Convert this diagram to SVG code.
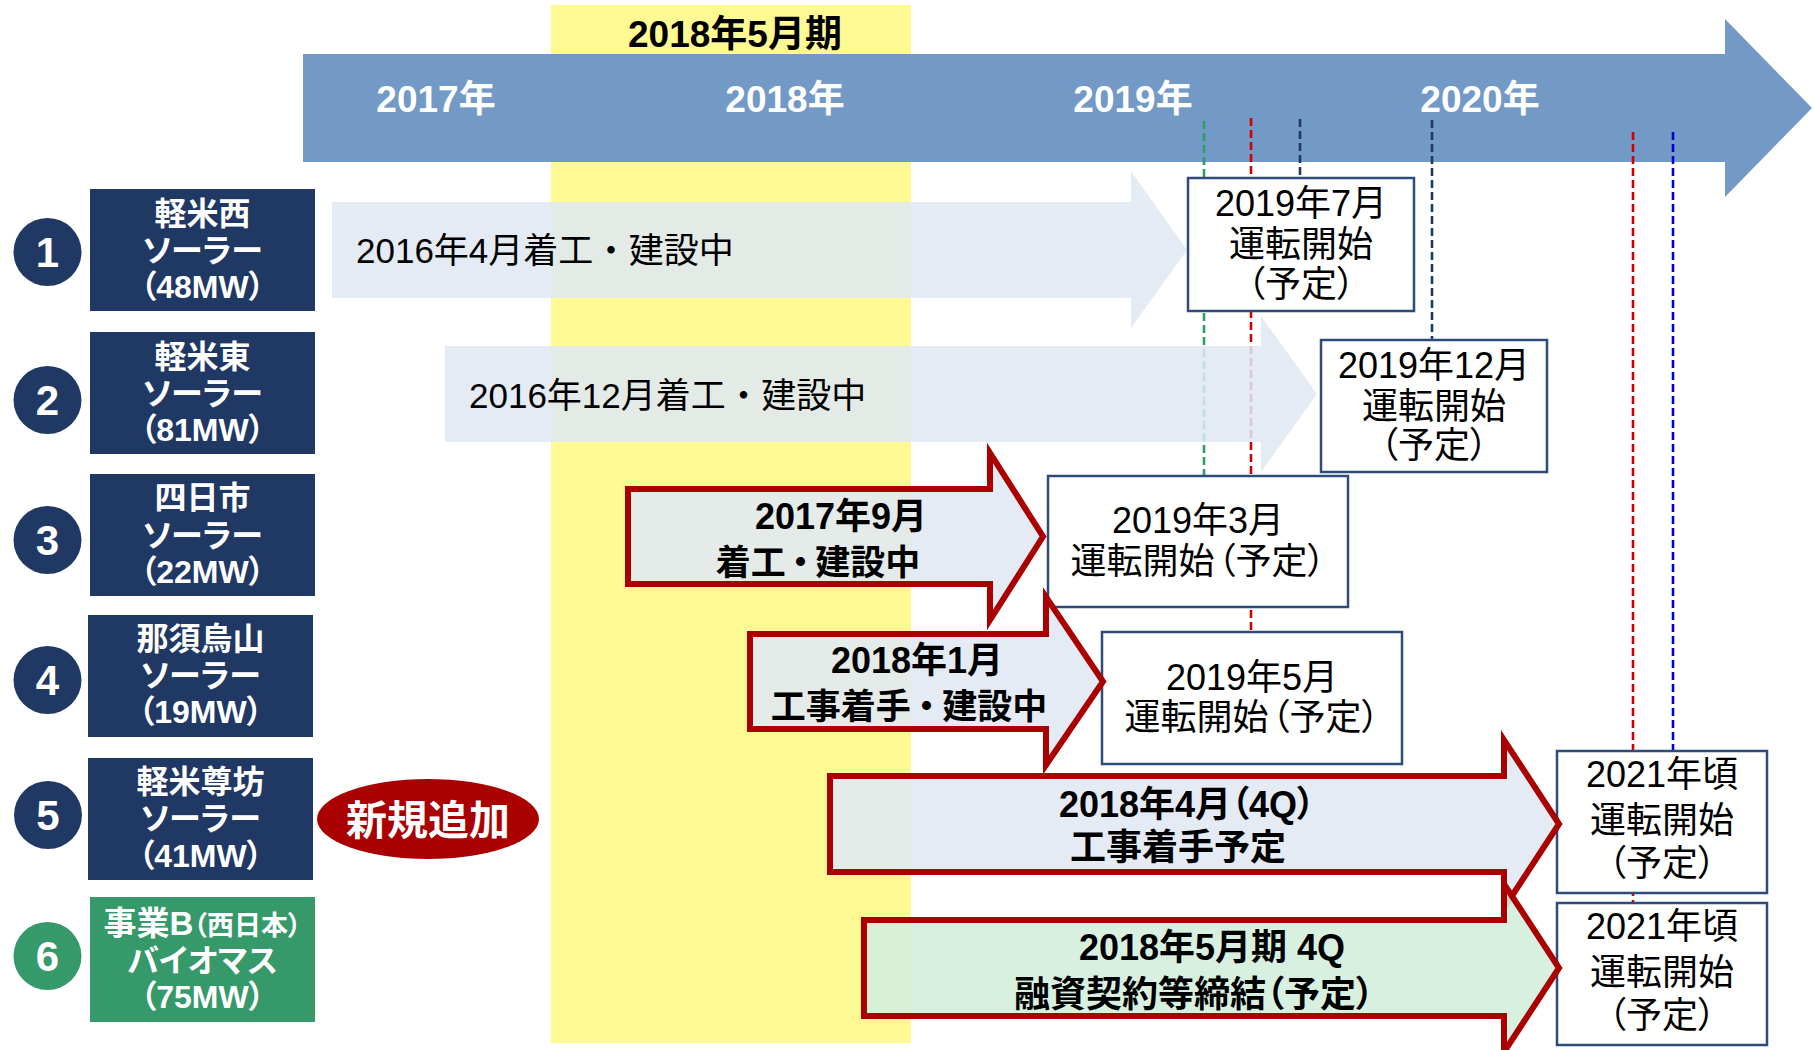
<svg xmlns="http://www.w3.org/2000/svg" width="1814" height="1050" viewBox="0 0 1814 1050">
<style>
  text { font-family: "Liberation Sans", "Noto Sans CJK JP", sans-serif; font-feature-settings: "palt"; }
  .lbl { fill:#ffffff; font-weight:bold; font-size:32px; text-anchor:middle; }
  .num { fill:#ffffff; font-weight:bold; font-size:42px; text-anchor:middle; }
  .year { fill:#ffffff; font-weight:bold; font-size:37px; text-anchor:middle; }
  .box { fill:#ffffff; stroke:#2F4B7C; stroke-width:2.5; }
  .bt { fill:#000000; font-size:36px; text-anchor:middle; }
  .gt { fill:#000000; font-size:35px; }
  .at { fill:#000000; font-weight:bold; font-size:36px; text-anchor:middle; }
  .garrow { fill:#E0E8F3; opacity:0.86; }
  .rarrow { fill:#E1E9F3; fill-opacity:0.9; stroke:#AA0000; stroke-width:6; stroke-linejoin:miter; stroke-miterlimit:10; }
  .rarrow.green { fill:#D3EEDD; }
  .dash { fill:none; stroke-width:2.6; stroke-dasharray:8 4; }
  .navyfill { fill:#203864; }
  .greenfill { fill:#35996A; }
</style>

<g id="period-band">
  <rect x="551" y="5" width="360" height="1038" fill="#FFF993"/>
  <text x="735" y="47" style="font-weight:bold;font-size:37px;text-anchor:middle;fill:#000">2018年5月期</text>
</g>

<g id="timeline">
  <path d="M303,54 H1725 V19 L1812,108 L1725,197 V162 H303 Z" fill="#7399C6"/>
  <text class="year" x="436" y="112">2017年</text>
  <text class="year" x="785" y="112">2018年</text>
  <text class="year" x="1133" y="112">2019年</text>
  <text class="year" x="1480" y="112">2020年</text>
</g>

<g id="connectors">
  <line class="dash" x1="1204" y1="121" x2="1204" y2="482" stroke="#2E9E66"/>
  <line class="dash" x1="1251" y1="118" x2="1251" y2="638" stroke="#D00000"/>
  <line class="dash" x1="1300" y1="119" x2="1300" y2="184" stroke="#203864"/>
  <line class="dash" x1="1432" y1="120" x2="1432" y2="346" stroke="#203864"/>
  <line class="dash" x1="1633" y1="132" x2="1633" y2="910" stroke="#D00000"/>
  <line class="dash" x1="1673" y1="132" x2="1673" y2="758" stroke="#0000CC"/>
</g>

<g id="arrow1">
  <path class="garrow" d="M332,202 H1131 V171 L1187,250 L1131,328 V298 H332 Z"/>
  <text class="gt" x="356" y="263">2016年4月着工<tspan dx="9">・</tspan><tspan dx="9">建設中</tspan></text>
</g>
<g id="arrow2">
  <path class="garrow" d="M445,346 H1261 V316 L1317,394 L1261,472 V442 H445 Z"/>
  <text class="gt" x="469" y="408">2016年12月着工<tspan dx="9">・</tspan><tspan dx="9">建設中</tspan></text>
</g>

<g id="label1">
  <circle class="navyfill" cx="47.5" cy="252" r="34"/>
  <text class="num" x="47.5" y="267">1</text>
  <rect class="navyfill" x="90" y="189" width="225" height="122"/>
  <text class="lbl" x="202.5" y="225">軽米西</text>
  <text class="lbl" x="202.5" y="262">ソーラー</text>
  <text class="lbl" x="202.5" y="298">（48MW）</text>
</g>
<g id="label2">
  <circle class="navyfill" cx="47.5" cy="400" r="34"/>
  <text class="num" x="47.5" y="415">2</text>
  <rect class="navyfill" x="90" y="332" width="225" height="122"/>
  <text class="lbl" x="202.5" y="368">軽米東</text>
  <text class="lbl" x="202.5" y="405">ソーラー</text>
  <text class="lbl" x="202.5" y="441">（81MW）</text>
</g>
<g id="label3">
  <circle class="navyfill" cx="47.5" cy="540" r="34"/>
  <text class="num" x="47.5" y="555">3</text>
  <rect class="navyfill" x="90" y="474" width="225" height="122"/>
  <text class="lbl" x="202.5" y="509">四日市</text>
  <text class="lbl" x="202.5" y="547">ソーラー</text>
  <text class="lbl" x="202.5" y="583">（22MW）</text>
</g>
<g id="label4">
  <circle class="navyfill" cx="47.5" cy="680" r="34"/>
  <text class="num" x="47.5" y="695">4</text>
  <rect class="navyfill" x="88" y="615" width="225" height="122"/>
  <text class="lbl" x="200.5" y="650">那須烏山</text>
  <text class="lbl" x="200.5" y="687">ソーラー</text>
  <text class="lbl" x="200.5" y="723">（19MW）</text>
</g>
<g id="label5">
  <circle class="navyfill" cx="48" cy="815" r="34"/>
  <text class="num" x="48" y="830">5</text>
  <rect class="navyfill" x="88" y="758" width="225" height="122"/>
  <text class="lbl" x="200.5" y="793">軽米尊坊</text>
  <text class="lbl" x="200.5" y="830">ソーラー</text>
  <text class="lbl" x="200.5" y="867">（41MW）</text>
</g>
<g id="label6">
  <circle class="greenfill" cx="47.5" cy="956" r="34"/>
  <text class="num" x="47.5" y="971">6</text>
  <rect class="greenfill" x="90" y="897" width="225" height="125"/>
  <text class="lbl" x="202.5" y="935" style="font-size:33px">事業B<tspan style="font-size:27px">（西日本）</tspan></text>
  <text class="lbl" x="202.5" y="972">バイオマス</text>
  <text class="lbl" x="202.5" y="1008">（75MW）</text>
</g>

<g id="new-badge">
  <ellipse cx="428" cy="819" rx="111" ry="40" fill="#AA0000"/>
  <text x="428" y="835" style="fill:#fff;font-weight:bold;font-size:41px;text-anchor:middle">新規追加</text>
</g>

<g id="box1">
  <rect class="box" x="1188" y="178" width="226" height="133"/>
  <text class="bt" x="1301" y="216">2019年7月</text>
  <text class="bt" x="1301" y="257">運転開始</text>
  <text class="bt" x="1301" y="297">（予定）</text>
</g>
<g id="box2">
  <rect class="box" x="1321" y="340" width="226" height="132"/>
  <text class="bt" x="1434" y="378">2019年12月</text>
  <text class="bt" x="1434" y="419">運転開始</text>
  <text class="bt" x="1434" y="458">（予定）</text>
</g>
<g id="box3">
  <rect class="box" x="1048" y="476" width="300" height="131"/>
  <text class="bt" x="1198" y="533">2019年3月</text>
  <text class="bt" x="1198" y="574">運転開始<tspan dx="3">（予定）</tspan></text>
</g>
<g id="box4">
  <rect class="box" x="1102" y="632" width="300" height="132"/>
  <text class="bt" x="1252" y="690">2019年5月</text>
  <text class="bt" x="1252" y="730">運転開始<tspan dx="3">（予定）</tspan></text>
</g>
<g id="box5">
  <rect class="box" x="1557" y="751" width="210" height="142"/>
  <text class="bt" x="1662" y="787">2021年頃</text>
  <text class="bt" x="1662" y="833">運転開始</text>
  <text class="bt" x="1662" y="876">（予定）</text>
</g>
<g id="box6">
  <rect class="box" x="1557" y="903" width="210" height="142"/>
  <text class="bt" x="1662" y="939">2021年頃</text>
  <text class="bt" x="1662" y="985">運転開始</text>
  <text class="bt" x="1662" y="1028">（予定）</text>
</g>

<g id="arrow3">
  <path class="rarrow" d="M628,489 H990 V453 L1043,536.5 L990,620 V584 H628 Z"/>
  <text class="at" x="841" y="529">2017年9月</text>
  <text class="at" x="818" y="575" style="font-size:35px">着工<tspan dx="6">・</tspan><tspan dx="6">建設中</tspan></text>
</g>
<g id="arrow4">
  <path class="rarrow" d="M750,634 H1046 V597 L1103,681.5 L1046,765 V729 H750 Z"/>
  <text class="at" x="917" y="673">2018年1月</text>
  <text class="at" x="909" y="719" style="font-size:35px">工事着手<tspan dx="7">・</tspan><tspan dx="7">建設中</tspan></text>
</g>
<g id="arrow5">
  <path class="rarrow" d="M830,776 H1504 V740 L1559,824 L1504,908 V872 H830 Z"/>
  <text class="at" x="1187" y="817">2018年4月（4Q）</text>
  <text class="at" x="1178" y="860">工事着手予定</text>
</g>
<g id="arrow6">
  <path class="rarrow green" d="M864,920 H1504 V884 L1559,968 L1504,1052 V1016 H864 Z"/>
  <text class="at" x="1212" y="960">2018年5月期 4Q</text>
  <text class="at" x="1194" y="1007">融資契約等締結（予定）</text>
</g>
</svg>
